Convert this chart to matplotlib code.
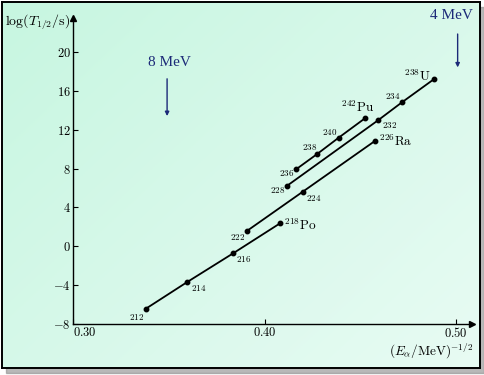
import matplotlib
matplotlib.use('Agg')
import matplotlib.pyplot as plt
import matplotlib.patches as patches
import numpy as np

plt.rcParams['mathtext.fontset'] = 'cm'

# alpha-decay data: x = (E_alpha/MeV)^-1/2, y = log(T1/2 / s)
po_mass = [212, 214, 216, 218]
po_x = [0.3379, 0.3595, 0.3835, 0.4080]
po_y = [-6.40, -3.66, -0.71, 2.37]

ra_mass = [222, 224, 226]
ra_x = [0.3908, 0.4199, 0.4578]
ra_y = [1.60, 5.62, 10.86]

u_mass = [228, 232, 234, 238]
u_x = [0.4115, 0.4594, 0.4717, 0.4883]
u_y = [6.20, 12.98, 14.80, 17.16]

pu_mass = [236, 238, 240, 242]
pu_x = [0.4164, 0.4274, 0.4386, 0.4526]
pu_y = [7.92, 9.49, 11.16, 13.19]

y_ticks = [-8, -4, 0, 4, 8, 12, 16, 20]
x_ticks = [0.30, 0.40, 0.50]

W, H = 484, 375
fig = plt.figure(figsize=(W / 100, H / 100), dpi=100)
fig.patch.set_facecolor('white')

def fx(px):
    return px / W

def fy(py):
    return 1 - py / H

# shadow + gradient panel + frame
shadow = patches.Rectangle((fx(6), fy(373)), 478 / W, 366 / H,
                           transform=fig.transFigure, color='#8a8a8a', alpha=0.6, zorder=0)
fig.add_artist(shadow)
bg = fig.add_axes([fx(2), fy(368), 478 / W, 366 / H], zorder=1)
gx, gy = np.meshgrid(np.linspace(0, 1, 200), np.linspace(0, 1, 200))
t = (0.55 * gx + 0.45 * gy)
c0 = np.array([0.78, 0.965, 0.88])
c1 = np.array([0.91, 0.985, 0.955])
img = c0[None, None, :] * (1 - t[..., None]) + c1[None, None, :] * t[..., None]
bg.imshow(img, aspect='auto', extent=[0, 1, 0, 1], origin='upper')
bg.set_xticks([])
bg.set_yticks([])
for s in bg.spines.values():
    s.set_linewidth(1.4)
    s.set_color('black')

ax = fig.add_axes([fx(73.3), fy(324.3), (472 - 73.3) / W, (324.3 - 18) / H], zorder=2)
ax.patch.set_alpha(0)
ax.set_xlim(0.30, 0.5083)
ax.set_ylim(-8, 23.46)
for s in ['top', 'right']:
    ax.spines[s].set_visible(False)
for s in ['left', 'bottom']:
    ax.spines[s].set_linewidth(1.0)
ax.plot(1, 0, '>', color='black', ms=5, transform=ax.transAxes, clip_on=False)
ax.plot(0, 1, '^', color='black', ms=5, transform=ax.transAxes, clip_on=False)

ax.set_yticks(y_ticks)
ax.set_yticklabels([r'$\mathbf{%d}$' % v for v in y_ticks], fontsize=9)
ax.set_xticks(x_ticks)
ax.set_xticklabels([r'$\mathbf{%.2f}$' % v for v in x_ticks], fontsize=9)
ax.get_xticklabels()[0].set_ha('left')
ax.tick_params(axis='both', direction='in', length=3.5, width=0.8)
ax.tick_params(axis='y', pad=2)
ax.tick_params(axis='x', pad=1.5)

for xs, ys in [(po_x, po_y), (ra_x, ra_y), (u_x, u_y), (pu_x, pu_y)]:
    ax.plot(xs, ys, '-o', color='black', lw=1.3, ms=3.2)

px = 0.72  # points per pixel

def lab(x, y, m, dx, dy, ha, va, el=None):
    if el:
        s = r'$^{\mathbf{%d}}\mathrm{%s}$' % (m, el)
        fs = 9.5
    else:
        s = r'$\mathbf{%d}$' % m
        fs = 6.5
    ax.annotate(s, (x, y), xytext=(dx * px, -dy * px), textcoords='offset points',
                ha=ha, va=va, fontsize=fs)

# Po chain
lab(po_x[0], po_y[0], po_mass[0], -2, 3, 'right', 'top')
lab(po_x[1], po_y[1], po_mass[1], 4, 1, 'left', 'top')
lab(po_x[2], po_y[2], po_mass[2], 3, 1, 'left', 'top')
lab(po_x[3], po_y[3], po_mass[3], 4, 2, 'left', 'center', 'Po')
# Ra chain
lab(ra_x[0], ra_y[0], ra_mass[0], -2, 1, 'right', 'top')
lab(ra_x[1], ra_y[1], ra_mass[1], 3, 1, 'left', 'top')
lab(ra_x[2], ra_y[2], ra_mass[2], 4, 1, 'left', 'center', 'Ra')
# U chain
lab(u_x[0], u_y[0], u_mass[0], -2, -1, 'right', 'top')
lab(u_x[1], u_y[1], u_mass[1], 4, 0, 'left', 'top')
lab(u_x[2], u_y[2], u_mass[2], -2, -1, 'right', 'bottom')
lab(u_x[3], u_y[3], u_mass[3], -3, 2, 'right', 'baseline', 'U')
# Pu chain
lab(pu_x[0], pu_y[0], pu_mass[0], -2, -1, 'right', 'top')
lab(pu_x[1], pu_y[1], pu_mass[1], 0, -2, 'right', 'bottom')
lab(pu_x[2], pu_y[2], pu_mass[2], -1, -1, 'right', 'bottom')
lab(pu_x[3], pu_y[3], pu_mass[3], -8, -3, 'center', 'bottom', 'Pu')

# energy markers
blue = '#1c2a78'
ax.annotate('', xy=(0.349, 13.1), xytext=(0.349, 17.5),
            arrowprops=dict(arrowstyle='-|>', color=blue, lw=1.0, mutation_scale=6))
ax.text(0.350, 18.9, '8 MeV', color=blue, fontsize=11, family='Liberation Serif',
        ha='center', va='center')
ax.annotate('', xy=(0.5008, 18.1), xytext=(0.5008, 22.1), annotation_clip=False,
            arrowprops=dict(arrowstyle='-|>', color=blue, lw=1.0, mutation_scale=6))
ax.text(0.4975, 23.7, '4 MeV', color=blue, fontsize=11, family='Liberation Serif',
        ha='center', va='center', clip_on=False)

fig.text(fx(70), fy(22), r'$\mathrm{log}(T_{1/2}/\mathrm{s})$', fontsize=10,
         ha='right', va='center', zorder=3)
fig.text(fx(473), fy(351), r'$(E_\alpha/\mathrm{MeV})^{-1/2}$', fontsize=9.5,
         ha='right', va='center', zorder=3)

fig.savefig('out.png', dpi=100)
